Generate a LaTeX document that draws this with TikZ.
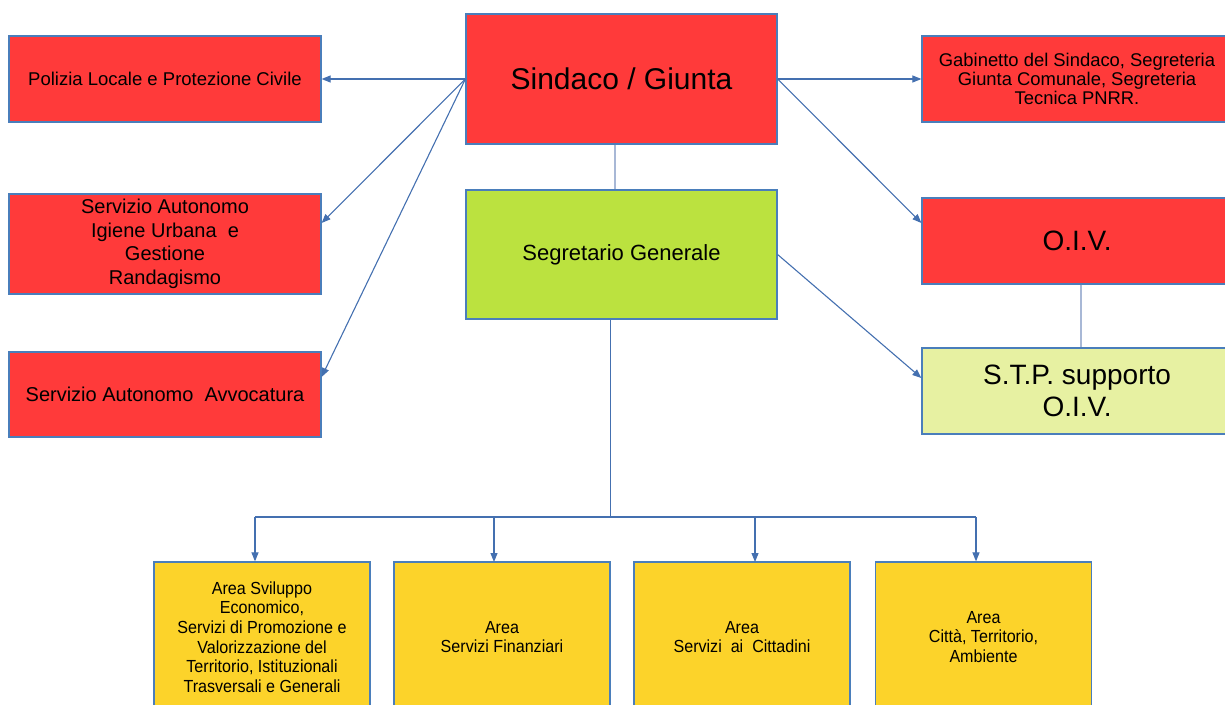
\documentclass[tikz,border=0pt]{standalone}
\usepackage{fontspec}
\setmainfont{Liberation Sans}
\newfontfamily\narrowf[FakeStretch=0.92]{Liberation Sans}
\usetikzlibrary{arrows.meta}
\definecolor{redbox}{HTML}{FF3A3A}
\definecolor{greenbox}{HTML}{BBE23F}
\definecolor{palebox}{HTML}{E7F1A2}
\definecolor{yellowbox}{HTML}{FCD32A}
\definecolor{bordc}{HTML}{4A7EBB}
\definecolor{linec}{HTML}{4470B0}
\definecolor{lightc}{HTML}{A8B8D6}
\tikzset{
  box/.style={draw=bordc, line width=1.2pt, inner sep=0pt, align=center, text=black},
  conn/.style={draw=linec, line width=1.1pt, -{Triangle[length=9pt,width=7pt]}},
  plain/.style={draw=lightc, line width=2pt},
  tree/.style={draw=linec, line width=1.1pt},
}
\begin{document}
\begin{tikzpicture}[x=1pt,y=-1pt]
\useasboundingbox (0,0) rectangle (1225,704);
% left column
\node[box, fill=redbox, minimum width=312pt, minimum height=86pt, font=\fontsize{18.5}{22}\selectfont] (pol) at (165,79) {Polizia Locale e Protezione Civile};
\node[box, fill=redbox, minimum width=312pt, minimum height=100pt, font=\fontsize{20}{23.5}\selectfont] (ige) at (165,244) {Servizio Autonomo\\Igiene Urbana\ \ e\\Gestione\\Randagismo};
\node[box, fill=redbox, minimum width=312pt, minimum height=85pt, font=\fontsize{20}{24}\selectfont] (avv) at (165,394.5) {Servizio Autonomo\ \ Avvocatura};
% centre column
\node[box, fill=redbox, minimum width=311pt, minimum height=130pt, font=\fontsize{30}{34}\selectfont] (sin) at (621.5,79) {Sindaco / Giunta};
\node[box, fill=greenbox, minimum width=311pt, minimum height=129pt, font=\fontsize{22}{26}\selectfont] (seg) at (621.5,254.5) {Segretario Generale};
% right column
\node[box, fill=redbox, minimum width=310pt, minimum height=86pt, font=\fontsize{18.4}{19}\selectfont] (gab) at (1077,79) {Gabinetto del Sindaco, Segreteria\\Giunta Comunale, Segreteria\\Tecnica PNRR.};
\node[box, fill=redbox, minimum width=310pt, minimum height=86pt, font=\fontsize{28}{32}\selectfont] (oiv) at (1077,241) {O.I.V.};
\node[box, fill=palebox, minimum width=310pt, minimum height=86pt, font=\fontsize{28}{32}\selectfont] (stp) at (1077,391) {S.T.P. supporto\\O.I.V.};
% bottom row
\tikzset{abox/.style={box, fill=yellowbox, minimum width=216pt, minimum height=150pt, font=\narrowf\fontsize{17.5}{19.6}\selectfont}}
\node[abox] (a1) at (262,637) {Area Sviluppo\\Economico,\\Servizi di Promozione e\\Valorizzazione del\\Territorio, Istituzionali\\Trasversali e Generali};
\node[abox] (a2) at (502,637) {Area\\Servizi Finanziari};
\node[abox] (a3) at (742,637) {Area\\Servizi\ \ ai\ \ Cittadini};
\node[abox] (a4) at (983.5,637) {Area\\Città, Territorio,\\Ambiente};
% connectors from Sindaco
\draw[conn] (sin.west) -- (pol.east);
\draw[conn] (sin.west) -- ([yshift=21pt]ige.east);
\draw[conn] (sin.west) -- ([yshift=17.5pt]avv.east);
\draw[conn] (sin.east) -- (gab.west);
\draw[conn] (sin.east) -- ([yshift=18pt]oiv.west);
\draw[conn] (seg.east) -- ([yshift=13pt]stp.west);
\draw[plain] ([xshift=-6.5pt]sin.south) -- ([xshift=-6.5pt]seg.north);
\draw[plain] ([xshift=4pt]oiv.south) -- ([xshift=4pt]stp.north);
% tree to areas
\coordinate (segb) at ([xshift=-11pt]seg.south);
\coordinate (h1) at (255,517);
\coordinate (h4) at (976,517);
\coordinate (hub) at (segb |- h1);
\draw[tree] (segb) -- (hub);
\draw[tree] (h1) -- (h4);
\draw[conn] (h1) -- (h1 |- a1.north);
\draw[conn] (494,517) -- (494,562);
\draw[conn] (755,517) -- (755,562);
\draw[conn] (h4) -- (h4 |- a4.north);
\end{tikzpicture}
\end{document}
